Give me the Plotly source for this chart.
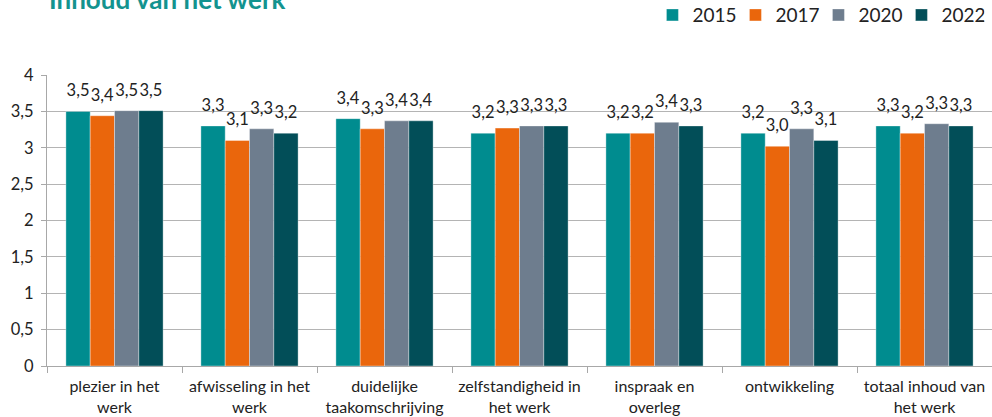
import plotly.graph_objects as go

categories = [
    "plezier in het<br>werk",
    "afwisseling in het<br>werk",
    "duidelijke<br>taakomschrijving",
    "zelfstandigheid in<br>het werk",
    "inspraak en<br>overleg",
    "ontwikkeling",
    "totaal inhoud van<br>het werk",
]
years = ["2015", "2017", "2020", "2022"]
v2015 = [3.50, 3.30, 3.40, 3.20, 3.20, 3.20, 3.30]
v2017 = [3.44, 3.10, 3.26, 3.27, 3.20, 3.02, 3.20]
v2020 = [3.51, 3.26, 3.37, 3.30, 3.35, 3.26, 3.33]
v2022 = [3.51, 3.20, 3.37, 3.30, 3.30, 3.10, 3.30]
colors = ["#008C8F", "#EA660C", "#6E7D8E", "#024E58"]

FONT = "Lato, 'Liberation Sans', sans-serif"
LABEL_PAD = 0.11  # gap (in axis units) between bar top and its value label

fig = go.Figure()
for name, vals, col in zip(years, [v2015, v2017, v2020, v2022], colors):
    fig.add_trace(go.Bar(
        name=name, x=categories, y=vals, offsetgroup=name,
        marker=dict(color=col, line=dict(color="rgba(255,255,255,0.6)", width=0.6)),
        hovertemplate="%{x}: %{y:.2f}<extra>" + name + "</extra>",
    ))
    # transparent spacer bar on top of each bar that carries the value label
    fig.add_trace(go.Bar(
        name=name, x=categories, y=[LABEL_PAD] * len(vals), base=vals,
        offsetgroup=name, showlegend=False, hoverinfo="skip",
        marker=dict(color="rgba(0,0,0,0)", line=dict(width=0)),
        text=[f"{v:.1f}".replace(".", ",") for v in vals],
        texttemplate="%{text}", textposition="outside",
        textfont=dict(size=16.5, color="#222222", family=FONT),
        constraintext="none", cliponaxis=False,
    ))

fig.update_layout(
    width=992, height=417,
    margin=dict(l=47, r=0, t=75, b=51, autoexpand=False),
    paper_bgcolor="white", plot_bgcolor="white",
    barmode="group", bargap=0.28, bargroupgap=0,
    separators=",.",
    font=dict(family=FONT, size=16, color="#222222"),
    showlegend=True,
    legend=dict(orientation="h", x=0.992, xanchor="right", y=1.206, yanchor="middle",
                font=dict(size=19, color="#222222", family=FONT),
                itemwidth=30, entrywidth=38, traceorder="normal", bgcolor="rgba(0,0,0,0)"),
    annotations=[dict(text="<b>Inhoud van het werk</b>", xref="paper", yref="paper",
                      x=0.0, xanchor="left", y=1.262, yanchor="middle", showarrow=False,
                      font=dict(size=26, color="#13938F", family=FONT))],
)
fig.update_yaxes(range=[0, 4], dtick=0.5, showgrid=True, gridcolor="#B4B4B4",
                 gridwidth=1, showline=True, linecolor="#A8A8A8", ticks="outside",
                 ticklen=5, tickcolor="#A8A8A8", zeroline=False, automargin=False,
                 ticklabelstandoff=4,
                 tickfont=dict(size=16.5, color="#222222"))
fig.update_xaxes(showline=True, linecolor="#A8A8A8", linewidth=1, ticks="outside",
                 tickson="boundaries", ticklen=6, tickcolor="#A8A8A8", automargin=False,
                 ticklabelstandoff=6,
                 tickfont=dict(size=16, color="#222222"))

fig.write_html("out.html", config={"displayModeBar": False},
               post_script="document.body.style.margin='0';document.body.style.overflow='hidden';")
